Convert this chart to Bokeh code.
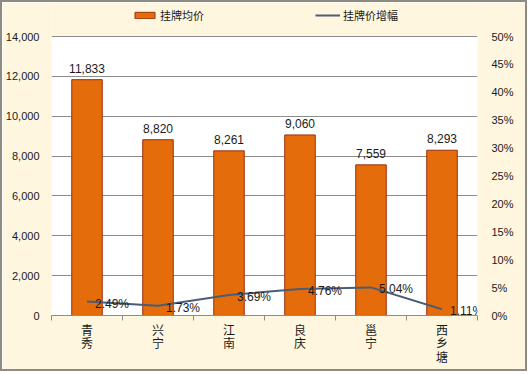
from bokeh.plotting import figure
from bokeh.models import (Range1d, LinearAxis, FixedTicker, NumeralTickFormatter,
                          ColumnDataSource, Legend, LegendItem, BoxAnnotation)
from bokeh.core.properties import value
from bokeh.embed import file_html
from bokeh.resources import INLINE

categories = ["青秀", "兴宁", "江南", "良庆", "邕宁", "西乡塘"]
avg_price = [11833, 8820, 8261, 9060, 7559, 8293]
growth_pct = [2.49, 1.73, 3.69, 4.76, 5.04, 1.11]
left_ticks = [0, 2000, 4000, 6000, 8000, 10000, 12000, 14000]
right_ticks = [0, 5, 10, 15, 20, 25, 30, 35, 40, 45, 50]

xs = list(range(len(categories)))
src = ColumnDataSource(dict(
    x=xs,
    price=avg_price,
    price_label=[f"{v:,}" for v in avg_price],
    growth=growth_pct,
    growth_label=[f"{v:.2f}%" for v in growth_pct],
))

CREAM = "#FEF6DF"
PLOT_H = 279          # pixel height of the white plotting area
TOP_PAD = 34          # cream strip above it (holds the legend)
FW, FH = 426, PLOT_H + TOP_PAD
BL, BR = 36, 48
y_max, pct_max = left_ticks[-1], right_ticks[-1]
scale = FH / PLOT_H

p = figure(frame_width=FW, frame_height=FH, output_backend="svg", toolbar_location=None,
           x_range=Range1d(-0.5, len(categories) - 0.5),
           y_range=Range1d(0, y_max * scale),
           min_border_left=BL, min_border_right=BR, min_border_top=0, min_border_bottom=54)
p.extra_y_ranges = {"pct": Range1d(0, pct_max * scale)}
p.background_fill_color = CREAM
p.border_fill_color = CREAM
p.outline_line_color = None
p.styles = {"border": "2px solid #8E8A84"}

# white plotting area up to the top tick
p.add_layout(BoxAnnotation(bottom=0, top=y_max, fill_color="white", fill_alpha=1,
                           line_color=None, level="image"))

# grid
p.xgrid.grid_line_color = None
p.ygrid.grid_line_color = "#8C8C8C"
p.ygrid.ticker = FixedTicker(ticks=left_ticks)

num_font = "Liberation Sans"
cjk_font = "Noto Sans CJK SC"

# left axis
ya = p.yaxis[0]
ya.ticker = FixedTicker(ticks=left_ticks)
ya.formatter = NumeralTickFormatter(format="0,0")
ya.axis_line_color = None
ya.major_tick_line_color = None
ya.minor_tick_line_color = None
ya.major_label_standoff = 6
ya.major_label_text_font = num_font
ya.major_label_text_font_size = "11px"
ya.major_label_text_color = "#1a1a1a"

# right axis
ra = LinearAxis(y_range_name="pct", ticker=FixedTicker(ticks=right_ticks))
ra.major_label_overrides = {t: f"{t}%" for t in right_ticks}
ra.axis_line_color = None
ra.major_tick_line_color = None
ra.minor_tick_line_color = None
ra.major_label_standoff = 8
ra.major_label_text_font = num_font
ra.major_label_text_font_size = "11px"
ra.major_label_text_color = "#1a1a1a"
p.add_layout(ra, "right")

# bottom axis
xa = p.xaxis[0]
xa.ticker = FixedTicker(ticks=xs, minor_ticks=[i - 0.5 for i in range(len(categories) + 1)])
xa.major_label_overrides = {i: "\n".join(c) for i, c in enumerate(categories)}
xa.axis_line_color = "#8C8C8C"
xa.major_tick_line_color = None
xa.minor_tick_line_color = "#8C8C8C"
xa.minor_tick_in = 0
xa.minor_tick_out = 5
xa.major_tick_out = 0
xa.major_label_standoff = 0
xa.major_label_text_font = cjk_font
xa.major_label_text_font_size = "12px"
xa.major_label_text_color = "#1a1a1a"
xa.major_label_text_line_height = 0.8

bars = p.vbar(x="x", top="price", width=0.43, source=src,
              fill_color="#E46C0A", line_color="#9C2F0E", line_width=1)
p.text(x="x", y="price", text="price_label", source=src,
       text_align="center", text_baseline="bottom", y_offset=-7,
       text_font=value(num_font), text_font_size="12px", text_color="#1a1a1a")

line = p.line(x="x", y="growth", source=src, y_range_name="pct",
              line_color="#4A5D78", line_width=2)
p.text(x="x", y="growth", text="growth_label", source=src, y_range_name="pct",
       text_align="left", text_baseline="middle", x_offset=8, y_offset=2,
       text_font=value(num_font), text_font_size="12px", text_color="#1a1a1a")

legend = Legend(items=[LegendItem(label="挂牌均价", renderers=[bars]),
                       LegendItem(label="挂牌价增幅", renderers=[line])],
                orientation="horizontal", location=(81, PLOT_H + 13),
                background_fill_alpha=0, border_line_color=None,
                label_text_font=cjk_font, label_text_font_size="11px",
                label_text_color="#1a1a1a", label_height=12,
                glyph_width=25, glyph_height=8, spacing=111,
                padding=0, margin=0, label_standoff=3)
p.add_layout(legend)

open("out.html", "w").write(file_html(p, INLINE))
